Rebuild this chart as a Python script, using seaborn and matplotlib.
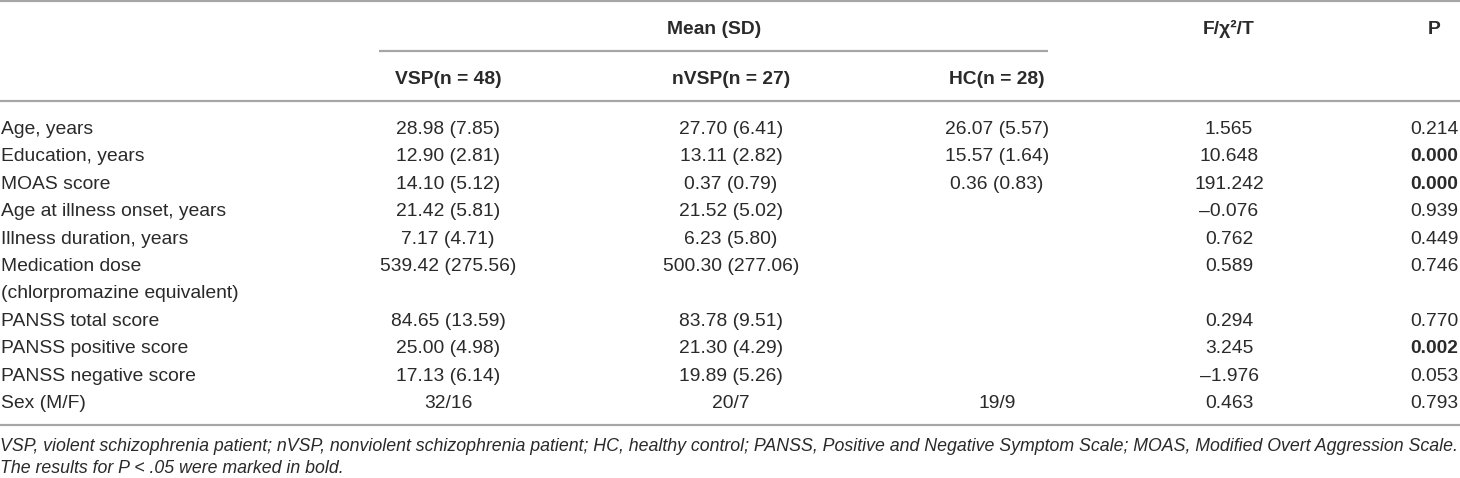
import numpy as np
import pandas as pd
import matplotlib
matplotlib.use("Agg")
import matplotlib.pyplot as plt
import seaborn as sns

# table content
labels = ["Age, years", "Education, years", "MOAS score", "Age at illness onset, years",
          "Illness duration, years", "Medication dose\n(chlorpromazine equivalent)",
          "PANSS total score", "PANSS positive score", "PANSS negative score", "Sex (M/F)"]
vsp = ["28.98 (7.85)", "12.90 (2.81)", "14.10 (5.12)", "21.42 (5.81)", "7.17 (4.71)",
       "539.42 (275.56)", "84.65 (13.59)", "25.00 (4.98)", "17.13 (6.14)", "32/16"]
nvsp = ["27.70 (6.41)", "13.11 (2.82)", "0.37 (0.79)", "21.52 (5.02)", "6.23 (5.80)",
        "500.30 (277.06)", "83.78 (9.51)", "21.30 (4.29)", "19.89 (5.26)", "20/7"]
hc = ["26.07 (5.57)", "15.57 (1.64)", "0.36 (0.83)", "", "", "", "", "", "", "19/9"]
stat = ["1.565", "10.648", "191.242", "\u20130.076", "0.762", "0.589", "0.294", "3.245",
        "\u20131.976", "0.463"]
pval = ["0.214", "0.000", "0.000", "0.939", "0.449", "0.746", "0.770", "0.002", "0.053", "0.793"]
bold_p = [False, True, True, False, False, False, False, True, False, False]

group_heads = ["VSP(n = 48)", "nVSP(n = 27)", "HC(n = 28)"]
footnote = ["VSP, violent schizophrenia patient; nVSP, nonviolent schizophrenia patient; HC, healthy control; "
            "PANSS, Positive and Negative Symptom Scale; MOAS, Modified Overt Aggression Scale.",
            "The results for P < .05 were marked in bold."]

df = pd.DataFrame({"label": labels, "vsp": vsp, "nvsp": nvsp, "hc": hc,
                   "stat": stat, "p": pval, "bold": bold_p})

sns.set_theme(style="white")
plt.rcParams["font.family"] = ["Liberation Sans", "DejaVu Sans"]

W, H = 1460, 478
fig = plt.figure(figsize=(W / 100, H / 100), dpi=100)
ax = fig.add_axes([0, 0, 1, 1])
ax.set_xlim(0, W)
ax.set_ylim(H, 0)
ax.axis("off")

txt = "#2a2a2a"
rule = "#a6a6a6"
fs = 13.9
col_x = {"vsp": 448, "nvsp": 731, "hc": 997, "stat": 1229, "p": 1434}

# rules
for y in [1, 101, 425]:
    ax.plot([0, W], [y, y], color=rule, lw=1.6, solid_capstyle="butt")
ax.plot([379, 1048], [51, 51], color=rule, lw=1.6, solid_capstyle="butt")

# header
ax.text(714, 34, "Mean (SD)", ha="center", fontsize=fs, fontweight="bold", color=txt)
ax.text(col_x["stat"], 34, "F/\u03c7\u00b2/T", ha="center", fontsize=fs, fontweight="bold", color=txt)
ax.text(col_x["p"], 34, "P", ha="center", fontsize=fs, fontweight="bold", color=txt)
for key, head in zip(["vsp", "nvsp", "hc"], group_heads):
    ax.text(col_x[key], 84, head, ha="center", fontsize=fs, fontweight="bold", color=txt)

# body
step = 27.4
y = 134
for _, r in df.iterrows():
    parts = r["label"].split("\n")
    for k, part in enumerate(parts):
        ax.text(1, y + k * step, part, ha="left", va="baseline", fontsize=fs, color=txt)
    for key in ["vsp", "nvsp", "hc", "stat"]:
        ax.text(col_x[key], y, r[key], ha="center", va="baseline", fontsize=fs, color=txt)
    ax.text(col_x["p"], y, r["p"], ha="center", va="baseline", fontsize=fs, color=txt,
            fontweight="bold" if r["bold"] else "normal")
    y += step * len(parts)

# footnote
ax.text(0, 451, footnote[0], ha="left", va="baseline", fontsize=12.8, style="italic", color=txt)
ax.text(0, 473, footnote[1], ha="left", va="baseline", fontsize=12.8, style="italic", color=txt)

fig.savefig("out.png", dpi=100)
